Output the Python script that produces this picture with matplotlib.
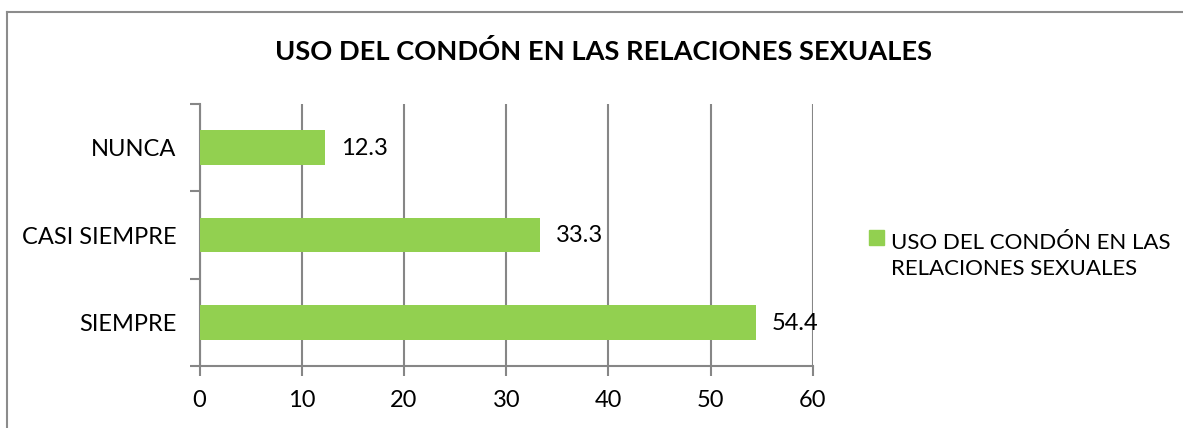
import matplotlib
matplotlib.use("Agg")
import matplotlib.pyplot as plt
from matplotlib.lines import Line2D
from matplotlib.patches import Rectangle

plt.rcParams["font.family"] = ["Lato", "DejaVu Sans"]

categories = ["SIEMPRE", "CASI SIEMPRE", "NUNCA"]
values = [54.4, 33.3, 12.3]
x_ticks = [0, 10, 20, 30, 40, 50, 60]
title = "USO DEL CONDÓN EN LAS RELACIONES SEXUALES"
series_name = "USO DEL CONDÓN EN LAS\nRELACIONES SEXUALES"

bar_color = "#92D050"
grid_color = "#868686"

W, H = 1183, 428
fig = plt.figure(figsize=(W / 100, H / 100), dpi=100)
ax = fig.add_axes([199.5 / W, 1 - 366 / H, (813 - 199.5) / W, (366 - 104) / H])

ypos = range(len(categories))
ax.barh(ypos, values, height=0.4, color=bar_color, zorder=3)
for y, v in zip(ypos, values):
    ax.annotate(f"{v}", (v, y), xytext=(16, -1), textcoords="offset pixels",
                va="center", ha="left", fontsize=17, color="#000000", zorder=4)

ax.set_xlim(0, 60)
ax.set_ylim(-0.5, len(categories) - 0.5)
ax.set_xticks(x_ticks)
ax.set_xticklabels([str(t) for t in x_ticks], fontsize=17)
ax.set_yticks(list(ypos))
ax.set_yticklabels(categories, fontsize=17)
ax.set_yticks([-0.5, 0.5, 1.5, 2.5], minor=True)

ax.grid(True, axis="x", color=grid_color, linewidth=1.5, zorder=1)
for s in ["top", "right"]:
    ax.spines[s].set_visible(False)
for s in ["left", "bottom"]:
    ax.spines[s].set_color(grid_color)
    ax.spines[s].set_linewidth(1.5)

ax.tick_params(axis="y", which="major", length=0, pad=16.5)
ax.tick_params(axis="y", which="minor", length=7, width=1.5, color=grid_color)
ax.tick_params(axis="x", length=7, width=1.5, color=grid_color, pad=10)

fig.text(603.5 / W, 1 - 52 / H, title, ha="center", va="center",
         fontsize=19.6, fontweight="bold")

# legend
fig.patches.append(Rectangle((869 / W, 1 - 245 / H), 15 / W, 15 / H,
                             transform=fig.transFigure, color=bar_color))
fig.text(891 / W, 1 - 256 / H, series_name, ha="left", va="center",
         fontsize=16, linespacing=1.4)

# chart border (left and top)
fig.lines.append(Line2D([6.5 / W, 6.5 / W], [0, 1 - 12 / H],
                        transform=fig.transFigure, color="#8C8C8C", linewidth=1.5))
fig.lines.append(Line2D([6.5 / W, 1], [1 - 12 / H, 1 - 12 / H],
                        transform=fig.transFigure, color="#8C8C8C", linewidth=1.5))

fig.savefig("out.png", dpi=100)
